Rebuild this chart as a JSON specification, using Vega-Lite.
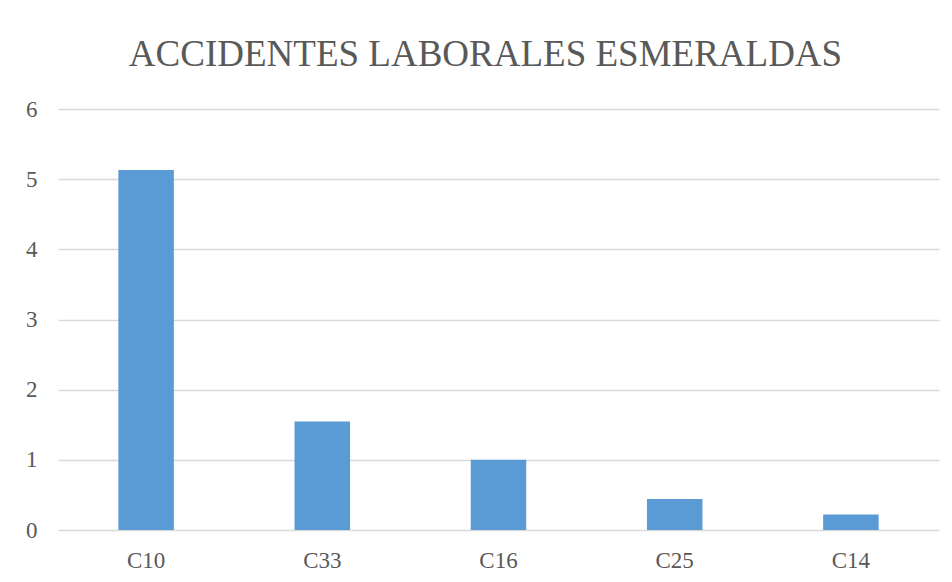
{
  "$schema": "https://vega.github.io/schema/vega-lite/v6.json",
  "width": 881,
  "height": 421,
  "autosize": "none",
  "padding": {"left": 58, "top": 109, "right": 13, "bottom": 52},
  "background": "white",
  "title": {
    "text": "ACCIDENTES LABORALES ESMERALDAS",
    "font": "Liberation Serif",
    "fontSize": 37,
    "fontWeight": "normal",
    "color": "#595959",
    "anchor": "middle",
    "frame": "group",
    "baseline": "alphabetic",
    "offset": -5,
    "dx": -13
  },
  "data": {
    "values": [
      {"cat": "C10", "value": 5.13},
      {"cat": "C33", "value": 1.545},
      {"cat": "C16", "value": 1.0},
      {"cat": "C25", "value": 0.443},
      {"cat": "C14", "value": 0.22}
    ]
  },
  "mark": {"type": "bar", "color": "#5B9BD5"},
  "encoding": {
    "x": {
      "field": "cat",
      "type": "nominal",
      "sort": null,
      "title": null,
      "scale": {"paddingInner": 0.685, "paddingOuter": 0.3425},
      "axis": {
        "labelAngle": 0,
        "labelFont": "Liberation Serif",
        "labelFontSize": 23,
        "labelColor": "#595959",
        "ticks": false,
        "tickSize": 0,
        "domain": false,
        "labelPadding": 19,
        "grid": false
      }
    },
    "y": {
      "field": "value",
      "type": "quantitative",
      "title": null,
      "scale": {"domain": [0, 6], "nice": false},
      "axis": {
        "values": [0, 1, 2, 3, 4, 5, 6],
        "labelFont": "Liberation Serif",
        "labelFontSize": 23,
        "labelColor": "#595959",
        "ticks": false,
        "tickSize": 0,
        "domain": false,
        "labelPadding": 21,
        "grid": true,
        "gridColor": "#D9D9D9",
        "gridWidth": 1.5
      }
    }
  },
  "config": {
    "view": {"stroke": null}
  }
}
